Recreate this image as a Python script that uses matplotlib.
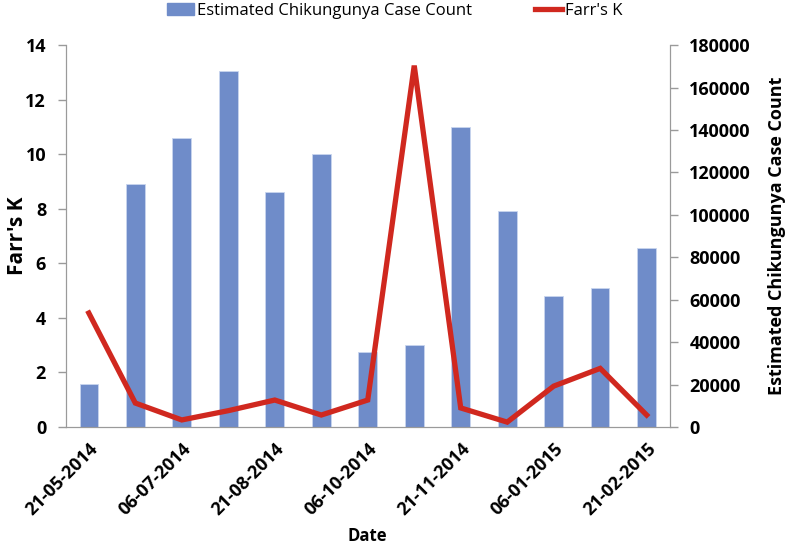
# Farr's K vs estimated chikungunya case count

import matplotlib
matplotlib.use('Agg')
import matplotlib.pyplot as plt
from matplotlib.patches import Patch
from matplotlib.lines import Line2D

# data
cases = [20500, 114400, 136300, 167800, 110600, 128600, 35400,
         38600, 141400, 101600, 61700, 65600, 84200]
farrs_k = [4.18, 0.88, 0.26, 0.6, 0.99, 0.44, 0.99,
           13.25, 0.7, 0.18, 1.5, 2.15, 0.44]
tick_labels = ['21-05-2014', '06-07-2014', '21-08-2014', '06-10-2014',
               '21-11-2014', '06-01-2015', '21-02-2015']

plt.rcParams['font.family'] = ['Open Sans', 'DejaVu Sans']

fig = plt.figure(figsize=(7.9, 5.44), dpi=100)
ax = fig.add_axes([0.083, 0.215, 0.765, 0.702])
ax2 = ax.twinx()

x = list(range(len(cases)))
bar_color = '#6f8cc9'
line_color = '#d0281f'
axis_color = '#9a9a9a'

# bars on the right axis
ax2.bar(x, cases, width=0.4, color=bar_color, edgecolor='#c9d5ee', linewidth=0.6)
ax2.set_ylim(0, 180000)
ax2.set_yticks(range(0, 180001, 20000))

# line on the left axis, drawn above the bars
ax.plot(x, farrs_k, color=line_color, linewidth=3.8, solid_joinstyle='miter')
ax.set_ylim(0, 14)
ax.set_yticks(range(0, 15, 2))
ax.set_zorder(ax2.get_zorder() + 1)
ax.patch.set_visible(False)

ax.set_xlim(-0.5, len(cases) - 0.5)
ax.set_xticks(x[::2])
ax.set_xticklabels(tick_labels, rotation=45, ha='right', rotation_mode='anchor',
                   fontsize=13, fontweight='bold')
ax.tick_params(axis='x', length=0, pad=9)

for a in (ax, ax2):
    for s in a.spines.values():
        s.set_color(axis_color)
    a.spines['top'].set_visible(False)
ax.tick_params(axis='y', labelsize=13, colors=axis_color, labelcolor='black', length=6, width=1, pad=8)
ax2.tick_params(axis='y', labelsize=13, colors=axis_color, labelcolor='black', length=6, width=1, pad=8)
for lab in ax.get_yticklabels() + ax2.get_yticklabels():
    lab.set_fontweight('bold')

ax.set_ylabel("Farr's K", fontsize=15, fontweight='bold')
ax.yaxis.set_label_coords(-0.062, 0.5)
ax2.set_ylabel('Estimated Chikungunya Case Count', fontsize=13, fontweight='bold')
ax2.yaxis.set_label_coords(1.162, 0.5)
ax.set_xlabel('Date', fontsize=12, fontweight='bold')
ax.xaxis.set_label_coords(0.5, -0.262)

handles = [Patch(color=bar_color), Line2D([0], [0], color=line_color, linewidth=3.8)]
fig.legend(handles, ['Estimated Chikungunya Case Count', "Farr's K"],
           loc='upper center', bbox_to_anchor=(0.5, 1.022), ncol=2, frameon=False,
           fontsize=12, handlelength=1.6, handletextpad=0.2, columnspacing=3.8)

plt.savefig('out.png', dpi=100)
